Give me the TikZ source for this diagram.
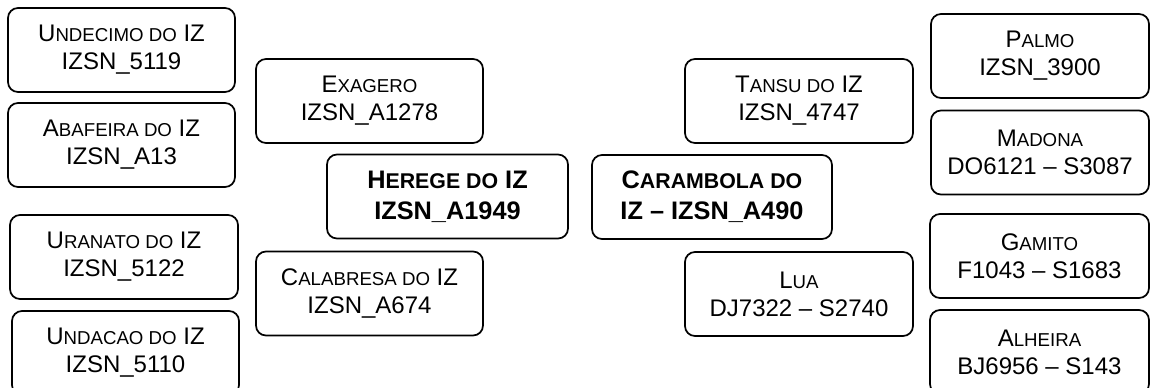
\documentclass[tikz,border=0pt]{standalone}
\usepackage{fontspec}
\setmainfont{Liberation Sans}
\newcommand{\smc}{\fontsize{14}{21}\selectfont}
\newcommand{\bsmc}{\fontsize{16}{23}\selectfont\bfseries}
\tikzset{
  box/.style={draw=black, line width=1.3pt, rounded corners=7.5pt, fill=white,
    align=center, inner sep=0pt, font=\fontsize{18}{21}\selectfont,
    minimum width=#1*0.75pt, minimum height=84*0.75pt},
  box/.default=227,
  bbox/.style={box=#1, font=\fontsize{19}{23}\selectfont\bfseries},
  bbox/.default=241
}
\begin{document}
\begin{tikzpicture}[x=0.75pt,y=-0.75pt]
\useasboundingbox (0,0) rectangle (1150,387);
\clip (0,0) rectangle (1150,387);
\fill[white] (0,0) rectangle (1150,387);
% left column
\node[box] (undecimo) at (121.5,50) {U{\smc NDECIMO DO} IZ\\IZSN\_5119};
\node[box] (abafeira) at (121.5,145) {A{\smc BAFEIRA DO} IZ\\IZSN\_A13};
\node[box=228] (uranato) at (124,257) {U{\smc RANATO DO} IZ\\IZSN\_5122};
\node[box] (undacao) at (125.5,353) {U{\smc NDACAO DO} IZ\\IZSN\_5110};
% middle left
\node[box] (exagero) at (369.5,101) {E{\smc XAGERO}\\IZSN\_A1278};
\node[bbox=241] (herege) at (447.5,196.5) {H{\bsmc EREGE DO} IZ\\IZSN\_A1949};
\node[box] (calabresa) at (369.5,293.5) {C{\smc ALABRESA DO} IZ\\IZSN\_A674};
% middle right
\node[box=228] (tansu) at (799,101) {T{\smc ANSU DO} IZ\\IZSN\_4747};
\node[bbox=240] (carambola) at (712,197) {C{\bsmc ARAMBOLA DO}\\IZ -- IZSN\_A490};
\node[box=228] (lua) at (799,294) {L{\smc UA}\\DJ7322 -- S2740};
% right column
\node[box=218] (palmo) at (1040,56) {P{\smc ALMO}\\IZSN\_3900};
\node[box=218] (madona) at (1040,152.5) {M{\smc ADONA}\\DO6121 -- S3087};
\node[box=219] (gamito) at (1039.5,256) {G{\smc AMITO}\\F1043 -- S1683};
\node[box=219] (alheira) at (1039.5,352) {A{\smc LHEIRA}\\BJ6956 -- S143};
\end{tikzpicture}
\end{document}
